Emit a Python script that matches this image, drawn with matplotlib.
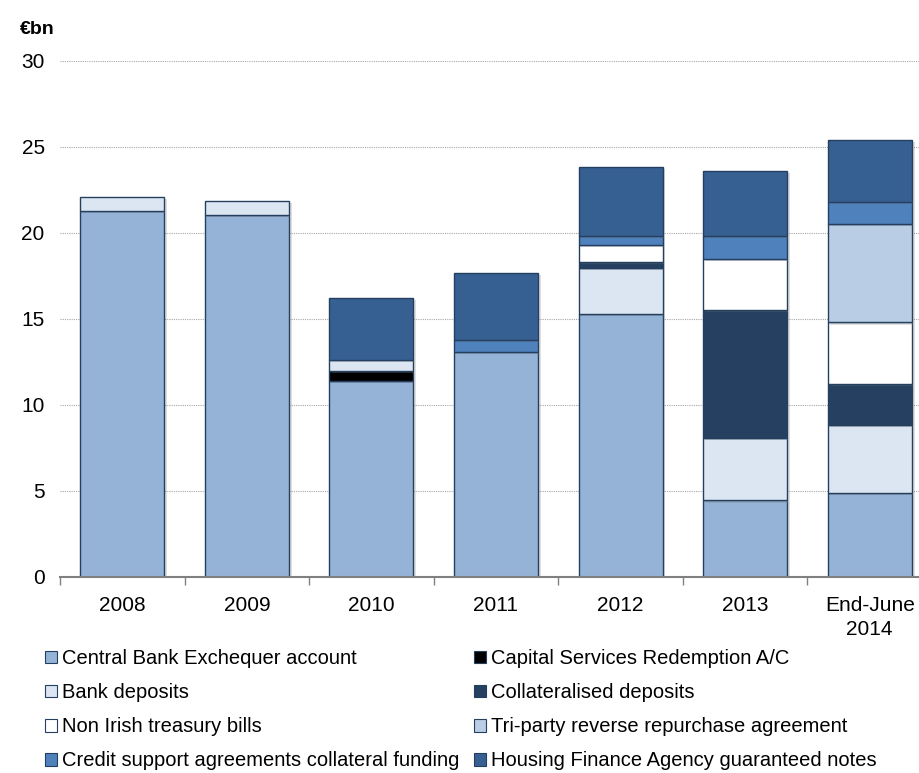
import numpy as np
import matplotlib
matplotlib.use("Agg")
import matplotlib.pyplot as plt
from matplotlib.patches import Patch
import matplotlib.patheffects as pe

plt.rcParams['font.family'] = ['Liberation Sans', 'DejaVu Sans']

categories = ['2008', '2009', '2010', '2011', '2012', '2013', 'End-June\n2014']
cbe = [21.3, 21.05, 11.4, 13.1, 15.3, 4.45, 4.9]
csr = [0, 0, 0.6, 0, 0, 0, 0]
bank = [0.8, 0.8, 0.6, 0, 2.65, 3.65, 3.95]
collat = [0, 0, 0, 0, 0.35, 7.4, 2.35]
tbills = [0, 0, 0, 0, 1.0, 3.0, 3.6]
triparty = [0, 0, 0, 0, 0, 0, 5.75]
csa = [0, 0, 0, 0.7, 0.55, 1.35, 1.25]
hfa = [0, 0, 3.6, 3.9, 4.0, 3.75, 3.6]

series = [
    ('Central Bank Exchequer account', cbe, '#95B3D7'),
    ('Capital Services Redemption A/C', csr, '#000000'),
    ('Bank deposits', bank, '#DCE6F2'),
    ('Collateralised deposits', collat, '#254061'),
    ('Non Irish treasury bills', tbills, '#FFFFFF'),
    ('Tri-party reverse repurchase agreement', triparty, '#B9CDE5'),
    ('Credit support agreements collateral funding', csa, '#4F81BD'),
    ('Housing Finance Agency guaranteed notes', hfa, '#376092'),
]
edge = '#243F60'

fig = plt.figure(figsize=(9.19, 7.73), dpi=100)
ax = fig.add_axes([60/919, (773-577)/773, 872/919, 516/773])

x = np.arange(len(categories))
bottom = np.zeros(len(categories))
width = 0.675
for name, vals, col in series:
    v = np.array(vals, dtype=float)
    idx = v > 0
    bars = ax.bar(x[idx], v[idx], width, bottom=bottom[idx], color=col,
                  edgecolor=edge, linewidth=1.0, zorder=3)
    for b in bars:
        b.set_path_effects([pe.SimplePatchShadow(offset=(2, -1.5), alpha=0.25, shadow_rgbFace='gray'),
                            pe.Normal()])
    bottom += v

ax.set_xlim(-0.5, len(categories) - 0.5)
ax.set_ylim(0, 30)
ax.set_yticks(np.arange(0, 31, 5))
ax.yaxis.grid(True, linestyle=(0, (1, 1)), color='#A8A8A8', linewidth=0.8, zorder=0)
ax.set_axisbelow(True)
ax.set_xticks(x)
ax.set_xticklabels(categories, fontsize=15, linespacing=1.3)
ax.set_xticks(np.arange(-0.5, len(categories), 1), minor=True)
ax.tick_params(axis='x', which='major', length=0, pad=14)
ax.tick_params(axis='x', which='minor', length=6, color='#808080', width=1, direction='out')
ax.tick_params(axis='y', length=0, labelsize=15, pad=11)
for s in ['top', 'right', 'left']:
    ax.spines[s].set_visible(False)
ax.spines['bottom'].set_color('#808080')
ax.spines['bottom'].set_linewidth(1.5)
ax.spines['bottom'].set_zorder(4)

fig.text(20/919, 1 - 29/773, '€bn', fontsize=14, fontweight='bold', va='center', ha='left')

def handles(items):
    return [Patch(facecolor=c, edgecolor=edge, linewidth=0.8, label=n) for n, _, c in items]

left_items = [series[0], series[2], series[4], series[6]]
right_items = [series[1], series[3], series[5], series[7]]
kw = dict(frameon=False, fontsize=14.5, handlelength=0.6, handleheight=0.6,
          handletextpad=0.25, labelspacing=0.75, loc='upper left', borderaxespad=0, borderpad=0)
fig.legend(handles=handles(left_items), bbox_to_anchor=(45/919, 1 - 649/773), **kw)
fig.legend(handles=handles(right_items), bbox_to_anchor=(474/919, 1 - 649/773), **kw)

fig.savefig('out.png', dpi=100)
